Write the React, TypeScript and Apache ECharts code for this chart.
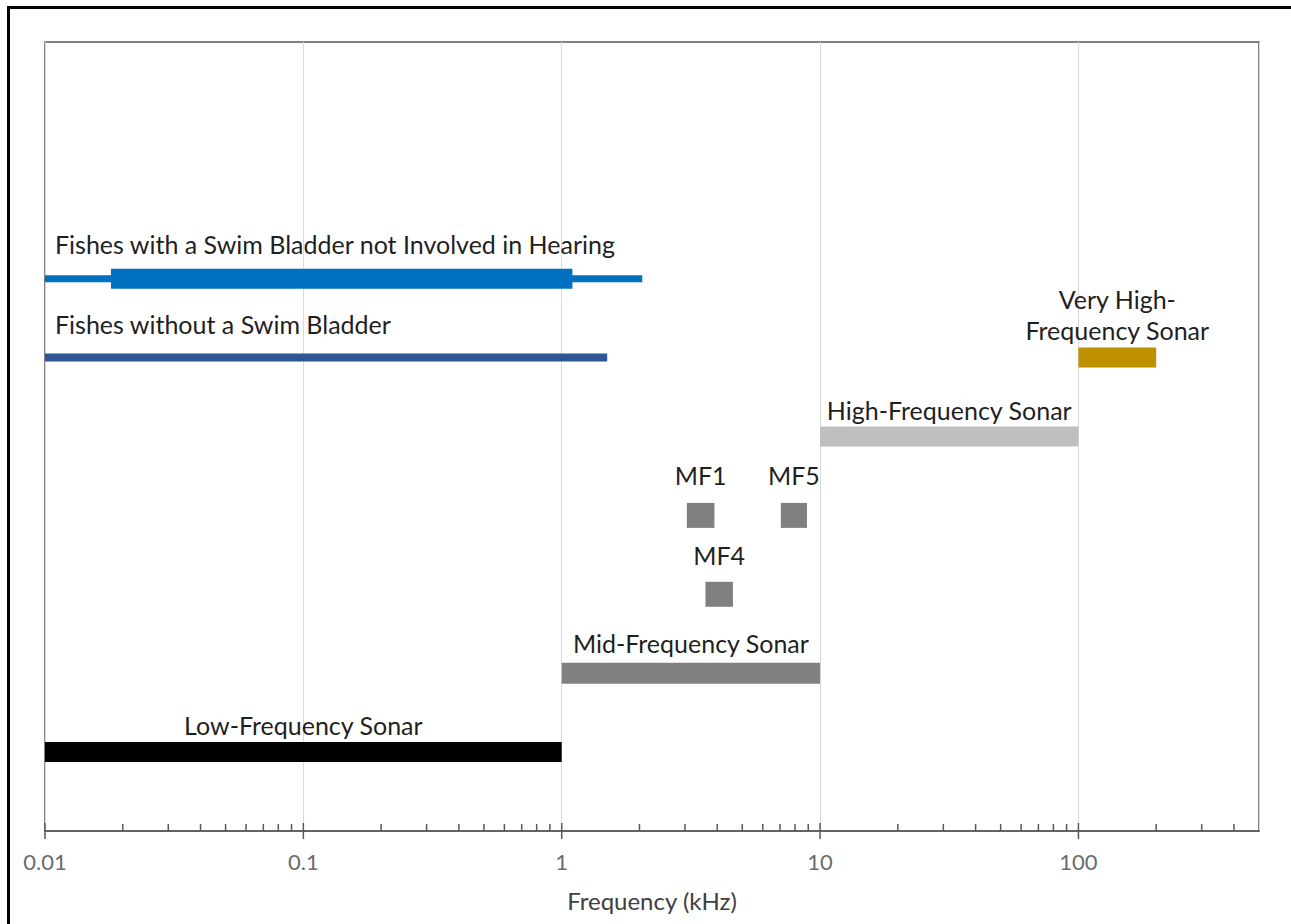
import React, { useEffect, useRef } from "react";
import * as echarts from "echarts";

// ---- Data ----
const barNames = [
  "Fishes with a Swim Bladder not Involved in Hearing (full range)",
  "Fishes with a Swim Bladder not Involved in Hearing (best range)",
  "Fishes without a Swim Bladder",
  "Very High-Frequency Sonar",
  "High-Frequency Sonar",
  "MF1",
  "MF5",
  "MF4",
  "Mid-Frequency Sonar",
  "Low-Frequency Sonar",
];
const barLabels = [
  "Fishes with a Swim Bladder not Involved in Hearing",
  "",
  "Fishes without a Swim Bladder",
  "Very High-\nFrequency Sonar",
  "High-Frequency Sonar",
  "MF1",
  "MF5",
  "MF4",
  "Mid-Frequency Sonar",
  "Low-Frequency Sonar",
];
const barStartKHz = [0.01, 0.018, 0.01, 100, 10, 3.05, 7.05, 3.6, 1, 0.01];
const barEndKHz = [2.05, 1.1, 1.5, 200, 100, 3.9, 8.9, 4.6, 10, 1];
const barRow = [7, 7, 6, 6, 5, 4, 4, 3, 2, 1];

const xTickLabels = ["0.01", "0.1", "1", "10", "100"];
const majorTicks = [0.01, 0.1, 1, 10, 100];
const minorTicks = [
  0.02, 0.03, 0.04, 0.05, 0.06, 0.07, 0.08, 0.09,
  0.2, 0.3, 0.4, 0.5, 0.6, 0.7, 0.8, 0.9,
  2, 3, 4, 5, 6, 7, 8, 9,
  20, 30, 40, 50, 60, 70, 80, 90,
  200, 300, 400,
];

// ---- Styles ----
const barColors = ["#0070C0", "#0070C0", "#2F5597", "#BF9000", "#BFBFBF", "#808080", "#808080", "#808080", "#808080", "#000000"];
const barHeights = [7, 20, 8, 20, 20, 25, 25, 25, 21, 20];
const labelAlign = ["left", "", "left", "center", "center", "center", "center", "center", "center", "center"];
const labelOffset = [35, 0, 34, 43, 27, 40, 40, 39, 30, 27];

const FONT = "Lato";

export default function App() {
  const ref = useRef<HTMLDivElement>(null);
  useEffect(() => {
    document.body.style.margin = "0";
    if (!ref.current) return;
    const chart = echarts.init(ref.current, undefined, { renderer: "svg" });
    const barData = barStartKHz.map((s, i) => ({ name: barNames[i], value: [s, barEndKHz[i], barRow[i]] }));
    const tickData = [
      ...majorTicks.map((v) => [v, 1]),
      ...minorTicks.map((v) => [v, 0]),
    ];
    chart.setOption({
      animation: false,
      backgroundColor: "#ffffff",
      textStyle: { fontFamily: FONT },
      graphic: [
        {
          type: "rect",
          silent: true,
          z: 100,
          shape: { x: 8.5, y: 7.5, width: 1400, height: 1000 },
          style: { fill: "none", stroke: "#000000", lineWidth: 3 },
        },
      ],
      grid: {
        left: 45,
        right: 32,
        top: 42,
        bottom: 93,
        show: true,
        borderColor: "#595959",
        borderWidth: 1.5,
      },
      xAxis: {
        type: "log",
        logBase: 10,
        min: 0.01,
        max: 500,
        name: "Frequency (kHz)",
        nameLocation: "middle",
        nameGap: 57,
        nameTextStyle: { fontSize: 24, color: "#404040", fontFamily: FONT },
        axisLine: { show: true, lineStyle: { color: "#595959", width: 1.5 } },
        axisTick: { show: false },
        axisLabel: {
          color: "#6b6b6b",
          fontSize: 22,
          fontFamily: FONT,
          margin: 19,
          formatter: (v: number) => {
            const s = xTickLabels.find((t) => Math.abs(Number(t) - v) < v * 1e-6);
            return s ?? "";
          },
        },
        splitLine: { show: true, lineStyle: { color: "#d9d9d9", width: 1 } },
      },
      yAxis: {
        type: "value",
        min: 0,
        max: 10,
        show: false,
      },
      series: [
        {
          type: "custom",
          name: "bars",
          data: barData,
          encode: { x: [0, 1], y: 2 },
          clip: false,
          renderItem: (params: any, api: any) => {
            const i = params.dataIndex;
            const s = api.coord([api.value(0), api.value(2)]);
            const e = api.coord([api.value(1), api.value(2)]);
            const h = barHeights[i];
            const children: any[] = [
              {
                type: "rect",
                shape: { x: s[0], y: s[1] - h / 2, width: e[0] - s[0], height: h },
                style: { fill: barColors[i] },
              },
            ];
            const label = barLabels[i];
            if (label) {
              const left = labelAlign[i] === "left";
              children.push({
                type: "text",
                x: left ? s[0] + 10 : (s[0] + e[0]) / 2,
                y: s[1] - labelOffset[i],
                style: {
                  text: label,
                  fill: "#1f1f1f",
                  fontSize: 25,
                  fontFamily: FONT,
                  align: left ? "left" : "center",
                  verticalAlign: "middle",
                  lineHeight: 31,
                },
              });
            }
            return { type: "group", children };
          },
        },
        {
          type: "custom",
          name: "ticks",
          data: tickData,
          encode: { x: 0, y: 1 },
          clip: false,
          silent: true,
          z: 5,
          renderItem: (params: any, api: any) => {
            const major = api.value(1) === 1;
            const p = api.coord([api.value(0), 0]);
            return {
              type: "line",
              shape: { x1: p[0], y1: p[1] - (major ? 8 : 7), x2: p[0], y2: p[1] + (major ? 8 : 0) },
              style: { stroke: "#595959", lineWidth: 1.5 },
            };
          },
        },
      ],
    });
    return () => chart.dispose();
  }, []);
  return <div ref={ref} style={{ width: 1291, height: 924 }} />;
}
